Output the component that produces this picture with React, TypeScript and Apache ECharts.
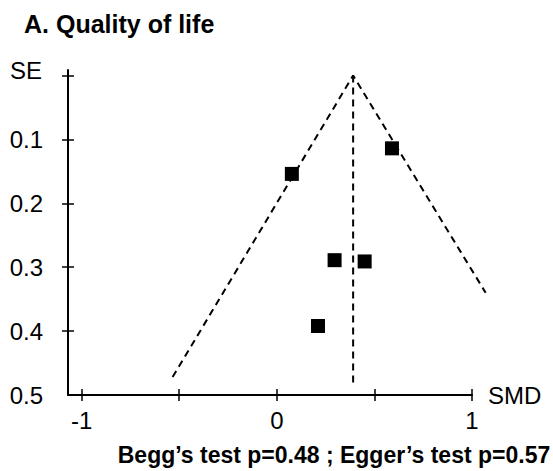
import React, { useEffect, useRef } from "react";
import * as echarts from "echarts";

// Study estimates (standardized mean difference) and their standard errors
const studySMD = [0.59, 0.077, 0.296, 0.45, 0.211];
const studySE = [0.114, 0.154, 0.289, 0.291, 0.392];

// Pooled estimate and pseudo 95% confidence limits of the funnel
const pooledSMD = 0.391;
const funnelSMD = [-0.534, 0.391, 1.07];
const funnelSE = [0.472, 0, 0.34];
const pooledLineSE = [0, 0.482];

// Axis ticks and labels
const xTicks = [-1, -0.5, 0, 0.5, 1];
const xLabels = [-1, 0, 1];
const yTicks = [0, 0.1, 0.2, 0.3, 0.4];
const yLabels = [0.1, 0.2, 0.3, 0.4, 0.5];

const titleText = "A. Quality of life";
const footText = "Begg\u2019s test p=0.48 ; Egger\u2019s test p=0.57";

const FONT = "'Liberation Sans', Arial, Helvetica, sans-serif";

const X_MIN = -1.07;
const X_AXIS_MAX = 1.0;
const X_DATA_MAX = 1.1;
const Y_MIN = -0.0086;
const Y_MAX = 0.5;

export default function App() {
  const ref = useRef<HTMLDivElement>(null);

  useEffect(() => {
    if (!ref.current) return;
    const chart = echarts.init(ref.current, null, { renderer: "svg" });

    const tickStyle = { color: "#000", width: 1.5 };
    const labelStyle = { color: "#000", fontSize: 24, fontFamily: FONT };

    chart.setOption({
      animation: false,
      backgroundColor: "#fff",
      grid: [
        // data grid (wider so the funnel may run past the last tick)
        { left: 68, right: 61.5, top: 70, height: 325, containLabel: false },
        // axes grid
        { left: 68, right: 81, top: 70, height: 325, containLabel: false },
      ],
      title: [
        {
          text: titleText,
          left: 19,
          top: 6,
          textStyle: { color: "#000", fontSize: 25, fontWeight: "bold", fontFamily: FONT },
        },
      ],
      graphic: [
        {
          type: "text",
          x: 42,
          y: 70,
          style: {
            text: "SE",
            fill: "#000",
            font: `24px ${FONT}`,
            textAlign: "right",
            textVerticalAlign: "middle",
          },
        },
        {
          type: "text",
          x: 334,
          y: 455,
          style: {
            text: footText,
            fill: "#000",
            font: `bold 23px ${FONT}`,
            textAlign: "center",
            textVerticalAlign: "middle",
          },
        },
      ],
      xAxis: [
        {
          type: "value",
          gridIndex: 0,
          min: X_MIN,
          max: X_DATA_MAX,
          show: false,
          splitLine: { show: false },
        },
        {
          type: "value",
          gridIndex: 1,
          min: X_MIN,
          max: X_AXIS_MAX,
          position: "bottom",
          splitLine: { show: false },
          axisLine: { show: true, onZero: false, lineStyle: { color: "#000", width: 2 } },
          axisTick: { show: true, inside: false, length: 6, customValues: xTicks, lineStyle: tickStyle },
          axisLabel: { show: true, customValues: xLabels, margin: 13, ...labelStyle },
          name: "SMD",
          nameLocation: "end",
          nameGap: 16,
          nameTextStyle: { ...labelStyle, verticalAlign: "middle" },
        },
        {
          type: "value",
          gridIndex: 1,
          min: X_MIN,
          max: X_AXIS_MAX,
          position: "bottom",
          offset: 0,
          splitLine: { show: false },
          axisLine: { show: false, onZero: false },
          axisTick: { show: true, inside: true, length: 6, customValues: xTicks, lineStyle: tickStyle },
          axisLabel: { show: false },
        },
      ],
      yAxis: [
        {
          type: "value",
          gridIndex: 0,
          min: Y_MIN,
          max: Y_MAX,
          inverse: true,
          show: false,
          splitLine: { show: false },
        },
        {
          type: "value",
          gridIndex: 1,
          min: Y_MIN,
          max: Y_MAX,
          inverse: true,
          position: "left",
          splitLine: { show: false },
          axisLine: { show: true, onZero: false, lineStyle: { color: "#000", width: 2 } },
          axisTick: { show: true, inside: false, length: 6, customValues: yTicks, lineStyle: tickStyle },
          axisLabel: {
            show: true,
            customValues: yLabels,
            margin: 25,
            formatter: (v: number) => v.toFixed(1),
            ...labelStyle,
          },
        },
        {
          type: "value",
          gridIndex: 1,
          min: Y_MIN,
          max: Y_MAX,
          inverse: true,
          position: "left",
          offset: 0,
          splitLine: { show: false },
          axisLine: { show: false, onZero: false },
          axisTick: { show: true, inside: true, length: 6, customValues: yTicks, lineStyle: tickStyle },
          axisLabel: { show: false },
        },
      ],
      series: [
        {
          type: "line",
          xAxisIndex: 0,
          yAxisIndex: 0,
          data: funnelSMD.map((x, i) => [x, funnelSE[i]]),
          showSymbol: false,
          symbol: "none",
          lineStyle: { color: "#000", width: 2, type: [7, 5] },
          z: 2,
        },
        {
          type: "line",
          xAxisIndex: 0,
          yAxisIndex: 0,
          data: pooledLineSE.map((s) => [pooledSMD, s]),
          showSymbol: false,
          symbol: "none",
          lineStyle: { color: "#000", width: 2, type: [7, 5] },
          z: 2,
        },
        {
          type: "scatter",
          xAxisIndex: 0,
          yAxisIndex: 0,
          data: studySMD.map((x, i) => [x, studySE[i]]),
          symbol: "rect",
          symbolSize: 14,
          itemStyle: { color: "#000", opacity: 1 },
          z: 3,
        },
      ],
    });

    return () => chart.dispose();
  }, []);

  return (
    <div
      ref={ref}
      style={{ position: "fixed", left: 0, top: 0, width: 553, height: 471 }}
    />
  );
}
